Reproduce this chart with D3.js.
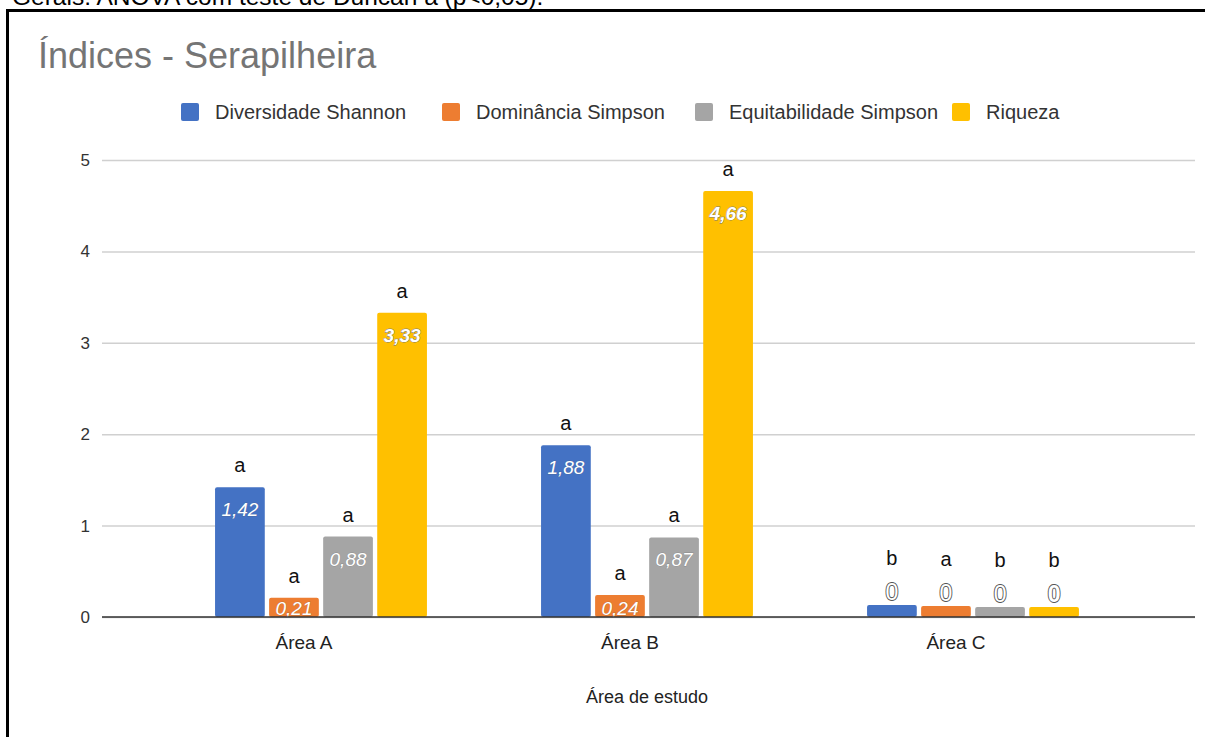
<!DOCTYPE html>
<html>
<head>
<meta charset="utf-8">
<script src="https://cdn.jsdelivr.net/npm/d3@7"></script>
<style>
  html, body { margin: 0; padding: 0; background: #fff; }
  svg { display: block; }
  text { font-family: "Liberation Sans", Arial, sans-serif; }
</style>
</head>
<body>
<svg id="chart" width="1205" height="737"></svg>
<script>
// ---- data ----
const categories = ["Área A", "Área B", "Área C"];
const seriesNames = ["Diversidade Shannon", "Dominância Simpson", "Equitabilidade Simpson", "Riqueza"];
const seriesColors = ["#4472c4", "#ed7d31", "#a5a5a5", "#ffc000"];
const diversidadeShannon = [1.42, 1.88, 0.13];
const dominanciaSimpson = [0.21, 0.24, 0.12];
const equitabilidadeSimpson = [0.88, 0.87, 0.11];
const riqueza = [3.33, 4.66, 0.11];
const diversidadeLabels = ["1,42", "1,88", "0"];
const dominanciaLabels = ["0,21", "0,24", "0"];
const equitabilidadeLabels = ["0,88", "0,87", "0"];
const riquezaLabels = ["3,33", "4,66", "0"];
const diversidadeLetters = ["a", "a", "b"];
const dominanciaLetters = ["a", "a", "a"];
const equitabilidadeLetters = ["a", "a", "b"];
const riquezaLetters = ["a", "a", "b"];
const yTicks = [0, 1, 2, 3, 4, 5];

const seriesValues = [diversidadeShannon, dominanciaSimpson, equitabilidadeSimpson, riqueza];
const seriesLabels = [diversidadeLabels, dominanciaLabels, equitabilidadeLabels, riquezaLabels];
const seriesLetters = [diversidadeLetters, dominanciaLetters, equitabilidadeLetters, riquezaLetters];

const svg = d3.select("#chart");

// outer frame + header text
svg.append("text").attr("x", 12).attr("y", 5)
  .attr("font-size", 24.5).attr("fill", "#000")
  .text("Gerais: ANOVA com teste de Duncan a (p<0,05).");
svg.append("rect").attr("x", 0).attr("y", 12).attr("width", 1205).attr("height", 725).attr("fill", "#fff");
svg.append("line").attr("x1", 7.5).attr("x2", 7.5).attr("y1", 9).attr("y2", 737)
  .attr("stroke", "#000").attr("stroke-width", 3);
svg.append("line").attr("x1", 6).attr("x2", 1205).attr("y1", 10.5).attr("y2", 10.5)
  .attr("stroke", "#000").attr("stroke-width", 3);

// title
svg.append("text").attr("x", 38).attr("y", 68)
  .attr("font-size", 36).attr("fill", "#757575")
  .text("Índices - Serapilheira");

// scales
const y = d3.scaleLinear().domain([0, 5]).range([617, 160]);
const x0 = d3.scaleBand().domain(categories).range([158, 1136]).paddingInner(0.35).paddingOuter(0.175);
const x1 = d3.scaleBand().domain(seriesNames).range([0, x0.bandwidth()]).paddingInner(0.08);
const color = d3.scaleOrdinal().domain(seriesNames).range(seriesColors);

// gridlines + y tick labels via axis
const yAxis = d3.axisLeft(y).tickValues(yTicks).tickSize(-1093).tickFormat(d3.format("d"));
const gy = svg.append("g").attr("transform", "translate(102,0)").call(yAxis);
gy.select(".domain").remove();
gy.selectAll(".tick line").attr("stroke", "#d0d0d0").attr("stroke-width", 1.5);
gy.selectAll(".tick text").attr("x", -12).attr("font-size", 17).attr("fill", "#333")
  .attr("font-family", "Liberation Sans, Arial, sans-serif");

// legend
const legendX = [181, 442, 695, 952];
const legend = svg.append("g");
seriesNames.forEach((s, i) => {
  legend.append("rect").attr("x", legendX[i]).attr("y", 103).attr("width", 18).attr("height", 18)
    .attr("rx", 2).attr("fill", color(s));
  legend.append("text").attr("x", legendX[i] + 34).attr("y", 119)
    .attr("font-size", 20).attr("fill", "#333").text(s);
});

// bars
const rows = [];
categories.forEach((c, ci) => {
  seriesNames.forEach((s, si) => {
    rows.push({ cat: c, ser: s, v: seriesValues[si][ci], lab: seriesLabels[si][ci], let: seriesLetters[si][ci] });
  });
});

const g = svg.append("g");
g.selectAll("rect.bar").data(rows).enter().append("rect")
  .attr("class", "bar")
  .attr("x", d => x0(d.cat) + x1(d.ser))
  .attr("y", d => y(d.v))
  .attr("width", x1.bandwidth())
  .attr("height", d => y(0) - y(d.v))
  .attr("rx", 2)
  .attr("fill", d => color(d.ser));

// value labels
g.selectAll("text.val").data(rows).enter().append("text")
  .attr("class", "val")
  .attr("x", d => x0(d.cat) + x1(d.ser) + x1.bandwidth() / 2)
  .attr("y", d => d.lab === "0" ? y(d.v) - 5 : Math.min(y(d.v) + 29, 615))
  .attr("text-anchor", "middle")
  .attr("font-size", d => d.lab === "0" ? 23 : 19)
  .attr("font-style", d => d.lab === "0" ? "normal" : "italic")
  .attr("font-weight", d => d.ser === "Riqueza" ? "bold" : "normal")
  .attr("fill", "#fff")
  .attr("stroke", d => d.lab === "0" ? "#555" : (d.ser === "Riqueza" ? "#777" : "rgba(90,90,90,0.35)"))
  .attr("stroke-width", d => d.lab === "0" ? 1.8 : 0.8)
  .attr("paint-order", "stroke")
  .text(d => d.lab);

// significance letters
g.selectAll("text.let").data(rows).enter().append("text")
  .attr("class", "let")
  .attr("x", d => x0(d.cat) + x1(d.ser) + x1.bandwidth() / 2)
  .attr("y", d => d.lab === "0" ? y(d.v) - 40 : y(d.v) - 15)
  .attr("text-anchor", "middle")
  .attr("font-size", 20)
  .attr("fill", "#111")
  .text(d => d.let);

// x axis baseline
svg.append("line").attr("x1", 102).attr("x2", 1195).attr("y1", y(0)).attr("y2", y(0))
  .attr("stroke", "#333").attr("stroke-width", 1.5);

// category labels
svg.append("g").selectAll("text").data(categories).enter().append("text")
  .attr("x", d => x0(d) + x0.bandwidth() / 2 - 17)
  .attr("y", 649)
  .attr("text-anchor", "middle")
  .attr("font-size", 19)
  .attr("fill", "#222")
  .text(d => d);

// x axis title
svg.append("text").attr("x", 647).attr("y", 703)
  .attr("text-anchor", "middle").attr("font-size", 18).attr("fill", "#222")
  .text("Área de estudo");
</script>
</body>
</html>
